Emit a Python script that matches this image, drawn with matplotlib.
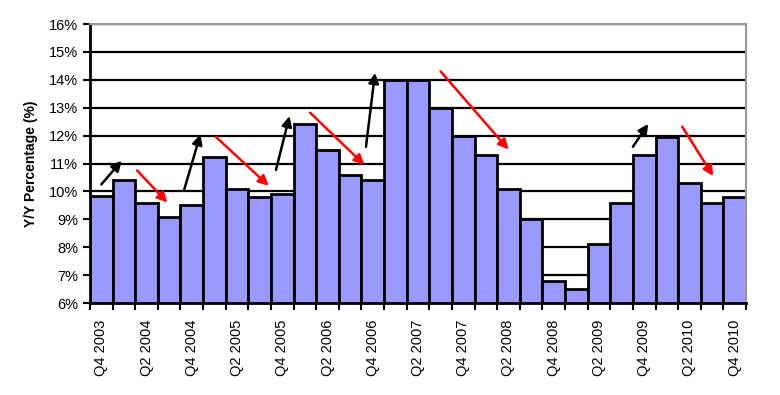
import matplotlib
matplotlib.use("Agg")
import matplotlib.pyplot as plt
import numpy as np

plt.rcParams['font.family'] = ['Liberation Sans', 'DejaVu Sans']

quarters = ["Q4 2003", "Q1 2004", "Q2 2004", "Q3 2004", "Q4 2004",
            "Q1 2005", "Q2 2005", "Q3 2005", "Q4 2005",
            "Q1 2006", "Q2 2006", "Q3 2006", "Q4 2006",
            "Q1 2007", "Q2 2007", "Q3 2007", "Q4 2007",
            "Q1 2008", "Q2 2008", "Q3 2008", "Q4 2008",
            "Q1 2009", "Q2 2009", "Q3 2009", "Q4 2009",
            "Q1 2010", "Q2 2010", "Q3 2010", "Q4 2010"]
values = [9.85, 10.4, 9.6, 9.1, 9.5,
          11.25, 10.1, 9.8, 9.9,
          12.4, 11.5, 10.6, 10.4,
          14.0, 14.0, 13.0, 12.0,
          11.3, 10.1, 9.0, 6.8,
          6.5, 8.1, 9.6, 11.3,
          11.95, 10.3, 9.6, 9.8]
yticks = [6, 7, 8, 9, 10, 11, 12, 13, 14, 15, 16]

# trend arrows: (x_start, y_start, x_end, y_end, colour)
arrows = [
    (0.0, 10.25, 0.9, 11.1, 'black'),
    (1.58, 10.75, 2.92, 9.6, 'red'),
    (3.66, 10.05, 4.38, 12.05, 'black'),
    (5.07, 11.95, 7.4, 10.2, 'red'),
    (7.72, 10.77, 8.32, 12.7, 'black'),
    (9.23, 12.82, 11.63, 10.95, 'red'),
    (11.7, 11.6, 12.1, 14.25, 'black'),
    (15.0, 14.3, 18.0, 11.5, 'red'),
    (23.5, 11.6, 24.18, 12.42, 'black'),
    (25.68, 12.32, 27.05, 10.55, 'red'),
]

fig = plt.figure(figsize=(7.8, 3.95), dpi=100)
ax = fig.add_axes([0.1154, 0.2329, 0.8410, 0.7063])

x = np.arange(len(values))
ax.bar(x, values, width=1.0, bottom=0, color='#9999FF', edgecolor='black',
       linewidth=2.0, zorder=2)

ax.set_xlim(-0.5, len(values) - 0.5)
ax.set_ylim(6, 16)
ax.set_yticks(yticks)
ax.set_yticklabels([f"{v}%" for v in yticks], fontsize=10.5)
ax.yaxis.grid(True, color='black', linewidth=1.6, zorder=0)
ax.set_axisbelow(True)

ax.set_xticks(x[::2])
ax.set_xticklabels(quarters[::2], rotation=90, fontsize=10.5)
ax.set_xticks(np.arange(len(values) + 1) - 0.5, minor=True)
ax.tick_params(axis='x', which='major', length=0, pad=12)
ax.tick_params(axis='x', which='minor', length=5, width=1.5, color='black')
ax.tick_params(axis='y', length=5, width=1.5, color='black')

ax.set_ylabel("Y/Y Percentage (%)", fontsize=10, fontweight='bold', labelpad=8)

ax.spines['left'].set_linewidth(2.0)
ax.spines['bottom'].set_linewidth(2.0)
ax.spines['top'].set_color('#999999')
ax.spines['right'].set_color('#999999')
ax.spines['top'].set_linewidth(1.5)
ax.spines['right'].set_linewidth(1.5)

for xs, ys, xe, ye, c in arrows:
    ax.annotate("", xy=(xe, ye), xytext=(xs, ys),
                arrowprops=dict(arrowstyle='-|>,head_length=0.6,head_width=0.3',
                                color=c, lw=1.8, shrinkA=0, shrinkB=0),
                zorder=5)

fig.savefig("out.png", dpi=100)
